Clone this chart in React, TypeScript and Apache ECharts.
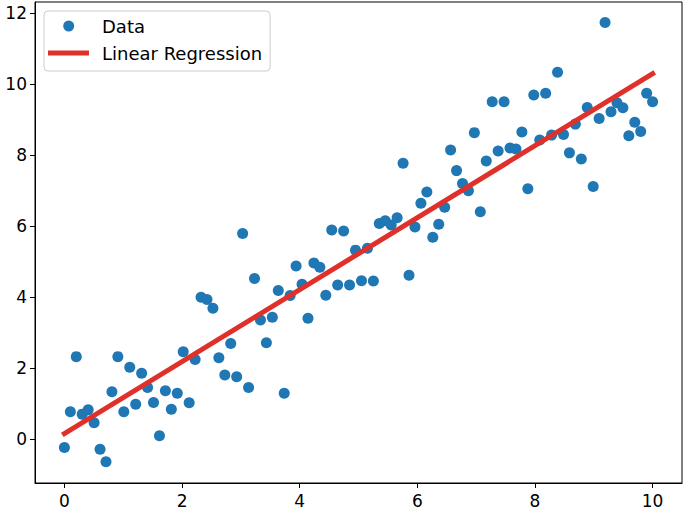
import React, { useEffect, useRef } from "react";
import * as echarts from "echarts";

// x positions of the samples (0 … 10, 100 samples)
const xValues = [
  0, 0.101, 0.202, 0.303, 0.404, 0.505, 0.606, 0.707, 0.808, 0.909,
  1.01, 1.111, 1.212, 1.313, 1.414, 1.515, 1.616, 1.717, 1.818, 1.919,
  2.02, 2.121, 2.222, 2.323, 2.424, 2.525, 2.626, 2.727, 2.828, 2.929,
  3.03, 3.131, 3.232, 3.333, 3.434, 3.535, 3.636, 3.737, 3.838, 3.939,
  4.04, 4.141, 4.242, 4.343, 4.444, 4.545, 4.646, 4.747, 4.848, 4.949,
  5.051, 5.152, 5.253, 5.354, 5.455, 5.556, 5.657, 5.758, 5.859, 5.96,
  6.061, 6.162, 6.263, 6.364, 6.465, 6.566, 6.667, 6.768, 6.869, 6.97,
  7.071, 7.172, 7.273, 7.374, 7.475, 7.576, 7.677, 7.778, 7.879, 7.98,
  8.081, 8.182, 8.283, 8.384, 8.485, 8.586, 8.687, 8.788, 8.889, 8.99,
  9.091, 9.192, 9.293, 9.394, 9.495, 9.596, 9.697, 9.798, 9.899, 10.0,
];

const yValues = [
  -0.23, 0.78, 2.33, 0.71, 0.83, 0.47, -0.28, -0.63, 1.34, 2.33,
  0.78, 2.03, 0.99, 1.86, 1.46, 1.04, 0.1, 1.37, 0.85, 1.3,
  2.47, 1.03, 2.25, 4.0, 3.94, 3.69, 2.3, 1.81, 2.7, 1.76,
  5.8, 1.46, 4.53, 3.36, 2.72, 3.44, 4.19, 1.3, 4.05, 4.88,
  4.37, 3.41, 4.97, 4.85, 4.06, 5.9, 4.35, 5.87, 4.35, 5.33,
  4.47, 5.38, 4.46, 6.08, 6.16, 6.04, 6.24, 7.78, 4.62, 5.98,
  6.65, 6.97, 5.69, 6.06, 6.54, 8.15, 7.57, 7.21, 7.0, 8.64,
  6.41, 7.84, 9.51, 8.12, 9.51, 8.21, 8.18, 8.66, 7.06, 9.7,
  8.43, 9.75, 8.57, 10.34, 8.59, 8.07, 8.88, 7.9, 9.35, 7.12,
  9.04, 11.74, 9.23, 9.48, 9.34, 8.55, 8.93, 8.67, 9.75, 9.51,
];

// regression line end points
const fitX = [0, 10];
const fitY = [0.16, 10.3];

const xTicks = [0, 2, 4, 6, 8, 10];
const yTicks = [0, 2, 4, 6, 8, 10, 12];
const seriesNames = ["Data", "Linear Regression"];

const FONT = "'DejaVu Sans', sans-serif";
const BLUE = "#1f77b4";
const RED = "#e0302a";

// legend icons with a 49x11 bounding box
const dotIcon =
  "path://M0,0M49,11M15.2,5.5A5.5,5.5,0,1,1,26.2,5.5A5.5,5.5,0,1,1,15.2,5.5Z";
const lineIcon = "path://M0,0M49,11M0,3L41,3L41,8L0,8Z";

export default function App() {
  const ref = useRef<HTMLDivElement>(null);

  useEffect(() => {
    if (!ref.current) return;
    const chart = echarts.init(ref.current, null, { renderer: "svg" });

    const axisCommon = {
      type: "value" as const,
      splitLine: { show: false },
      axisLine: { show: true, onZero: false, lineStyle: { color: "#000", width: 1 } },
    };

    chart.setOption({
      animation: false,
      backgroundColor: "#ffffff",
      grid: {
        left: 35,
        top: 2,
        right: 3,
        bottom: 27,
        show: true,
        borderColor: "#000",
        borderWidth: 1,
        backgroundColor: "transparent",
      },
      xAxis: {
        ...axisCommon,
        min: -0.5,
        max: 10.5,
        minInterval: 2,
        maxInterval: 2,
        axisTick: {
          show: true,
          length: 5,
          lineStyle: { color: "#000", width: 1 },
          customValues: xTicks,
        },
        axisLabel: {
          customValues: xTicks,
          color: "#000",
          fontSize: 17,
          fontFamily: FONT,
          margin: 9,
        },
      },
      yAxis: {
        ...axisCommon,
        min: -1.23,
        max: 12.32,
        minInterval: 2,
        maxInterval: 2,
        axisTick: {
          show: true,
          length: 5,
          lineStyle: { color: "#000", width: 1 },
          customValues: yTicks,
        },
        axisLabel: {
          customValues: yTicks,
          color: "#000",
          fontSize: 17,
          fontFamily: FONT,
          margin: 8,
        },
      },
      legend: {
        orient: "vertical",
        left: 44,
        top: 11,
        itemWidth: 49,
        itemHeight: 11,
        itemGap: 9,
        padding: [6, 8, 9, 4],
        backgroundColor: "rgba(255,255,255,0.85)",
        borderColor: "#cccccc",
        borderWidth: 1,
        borderRadius: 4,
        textStyle: { fontFamily: FONT, fontSize: 18, color: "#000", lineHeight: 18 },
        data: [
          { name: seriesNames[0], icon: dotIcon },
          { name: seriesNames[1], icon: lineIcon },
        ],
        z: 10,
      },
      series: [
        {
          name: seriesNames[0],
          type: "scatter",
          symbol: "circle",
          symbolSize: 11,
          itemStyle: { color: BLUE, opacity: 1 },
          data: xValues.map((x, i) => [x, yValues[i]]),
          z: 2,
        },
        {
          name: seriesNames[1],
          type: "line",
          showSymbol: false,
          symbol: "none",
          color: RED,
          itemStyle: { color: RED },
          lineStyle: { color: RED, width: 5, cap: "square" },
          data: fitX.map((x, i) => [x, fitY[i]]),
          z: 3,
        },
      ],
    });

    return () => chart.dispose();
  }, []);

  return (
    <div
      ref={ref}
      style={{ position: "fixed", left: 0, top: 0, width: 685, height: 510 }}
    />
  );
}
